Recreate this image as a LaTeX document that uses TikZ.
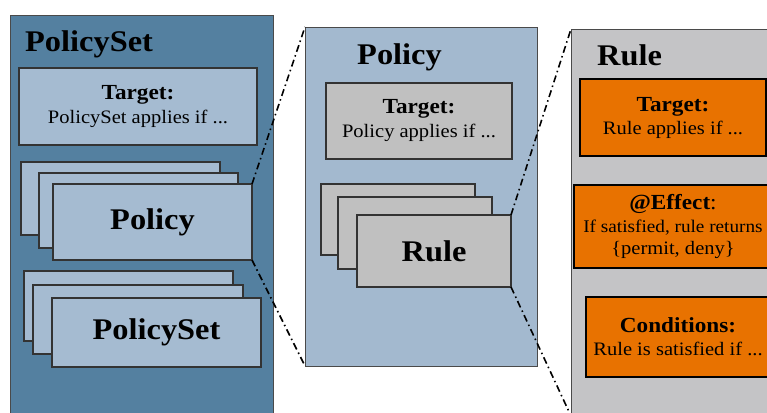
\documentclass[tikz,border=0pt]{standalone}
\usepackage{fontspec}
\setmainfont{Liberation Serif}[FakeStretch=1.08]

\definecolor{psblue}{HTML}{5480A0}
\definecolor{lightblue}{HTML}{A5BBD1}
\definecolor{policybg}{HTML}{A3B9CF}
\definecolor{cardgrey}{HTML}{C0C0C0}
\definecolor{rulebg}{HTML}{C4C4C6}
\definecolor{ruleorange}{HTML}{E87200}
\definecolor{edgegrey}{HTML}{4A4A4A}
\definecolor{cardedge}{HTML}{333333}

\newcommand\headfont{\fontsize{30}{34}\selectfont\bfseries}
\newcommand\keyfont{\fontsize{21.5}{24}\selectfont\bfseries}

\begin{document}
\begin{tikzpicture}[x=1pt,y=-1pt,
  panel/.style={rectangle, anchor=north west, inner sep=0pt, outer sep=0pt,
                draw=edgegrey, line width=0.9pt},
  card/.style={rectangle, anchor=north west, inner sep=0pt, outer sep=0pt,
               draw=cardedge, line width=1.1pt, align=center, text=black,
               font=\fontsize{19}{24}\selectfont},
  bluecard/.style={card, fill=lightblue},
  greycard/.style={card, fill=cardgrey},
  orangecard/.style={card, fill=ruleorange, draw=black, line width=1.4pt},
  title/.style={anchor=base west, inner sep=0pt, font=\headfont},
  zoomline/.style={line width=1.6pt, black,
                   dash pattern=on 7pt off 3.5pt on 1.5pt off 3.5pt}]

\useasboundingbox (0,0) rectangle (767,412);
\clip (0,0) rectangle (767,412);

% ---------- PolicySet panel ----------
\node[panel, fill=psblue, minimum width=263pt, minimum height=400pt] (ps) at (10,15) {};
\node[title] (pstitle) at (25,52) {PolicySet};
\node[bluecard, minimum width=238pt, minimum height=77pt] (pstarget) at (19,68)
  {{\keyfont Target:}\\PolicySet applies if ...};

\node[bluecard, minimum width=199pt, minimum height=73pt] (pol1) at (21,162) {};
\node[bluecard, minimum width=199pt, minimum height=75pt] (pol2) at (39,173) {};
\node[bluecard, minimum width=199pt, minimum height=76pt, font=\headfont] (pol3) at (53,184) {Policy};

\node[bluecard, minimum width=209pt, minimum height=70pt] (sub1) at (24,271) {};
\node[bluecard, minimum width=210pt, minimum height=69pt] (sub2) at (33,285) {};
\node[bluecard, minimum width=209pt, minimum height=69pt, font=\headfont] (sub3) at (52,298) {PolicySet};

% ---------- Policy panel ----------
\node[panel, fill=policybg, minimum width=232pt, minimum height=339pt] (pol) at (305,27) {};
\node[title] (poltitle) at (357,64) {Policy};
\node[greycard, minimum width=186pt, minimum height=76pt] (poltarget) at (326,83)
  {{\keyfont Target:}\\Policy applies if ...};

\node[greycard, minimum width=154pt, minimum height=71pt] (rule1) at (321,184) {};
\node[greycard, minimum width=154pt, minimum height=72pt] (rule2) at (338,197) {};
\node[greycard, minimum width=154pt, minimum height=72pt, font=\headfont] (rule3) at (357,215) {Rule};

% ---------- Rule panel ----------
\node[panel, fill=rulebg, minimum width=250pt, minimum height=387pt] (rule) at (571,29) {};
\node[title] (ruletitle) at (597,66) {Rule};
\node[orangecard, minimum width=186pt, minimum height=77pt,
      font=\fontsize{19}{23}\selectfont] (ruletarget) at (580,79)
  {{\keyfont Target:}\\Rule applies if ...};
\node[orangecard, minimum width=198pt, minimum height=83pt,
      font=\fontsize{19}{22.5}\selectfont] (effect) at (574,185)
  {{\keyfont @Effect}{\fontsize{21.5}{22.5}\selectfont:}\\
   {\fontsize{17.8}{22.5}\selectfont If satisfied, rule returns}\\\{permit, deny\}};
\node[orangecard, minimum width=184pt, minimum height=80pt,
      font=\fontsize{19}{23}\selectfont] (cond) at (586,297)
  {{\keyfont Conditions:}\\Rule is satisfied if ...};

% ---------- zoom connectors ----------
\draw[zoomline] (pol3.north east) -- (pol.north west);
\draw[zoomline] (pol3.south east) -- (pol.south west);
\draw[zoomline] (rule3.north east) -- (rule.north west);
\draw[zoomline] (rule3.south east) -- (rule.south west);

\end{tikzpicture}
\end{document}
